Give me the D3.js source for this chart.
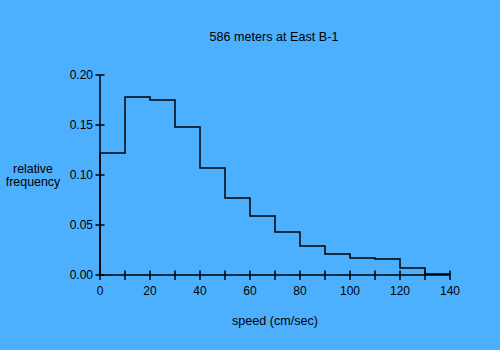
<!DOCTYPE html>
<html><head><meta charset="utf-8">
<script src="https://cdn.jsdelivr.net/npm/d3@7"></script>
<style>body{margin:0;background:#4db0ff;}svg{display:block;}</style>
</head><body>
<script>
const binStarts = [0,10,20,30,40,50,60,70,80,90,100,110,120,130];
const binWidth = 10;
const freq = [0.122,0.178,0.175,0.148,0.107,0.077,0.059,0.043,0.029,0.021,0.017,0.016,0.007,0.001];
const xTicks = [0,20,40,60,80,100,120,140];
const xMinorTicks = [0,10,20,30,40,50,60,70,80,90,100,110,120,130,140];
const yTicks = [0,0.05,0.10,0.15,0.20];
const title = "586 meters at East B-1";
const xLabel = "speed (cm/sec)";
const yLabel = ["relative","frequency"];

const W=500,H=350;
const svg=d3.select("body").append("svg").attr("width",W).attr("height",H);
svg.append("rect").attr("width",W).attr("height",H).attr("fill","#4db0ff");
const x=d3.scaleLinear().domain([0,140]).range([100,450]);
const y=d3.scaleLinear().domain([0,0.2]).range([275,75]);
const font="Liberation Sans, Arial, sans-serif";

// axes
const g=svg.append("g").attr("stroke","#000").attr("stroke-width",1.5).attr("fill","none");
g.append("line").attr("x1",x(0)).attr("x2",x(140)).attr("y1",y(0)).attr("y2",y(0));
g.append("line").attr("x1",x(0)).attr("x2",x(0)).attr("y1",y(0)).attr("y2",y(0.2));
xMinorTicks.forEach(t=>g.append("line").attr("x1",x(t)).attr("x2",x(t)).attr("y1",y(0)-4.5).attr("y2",y(0)+5));
yTicks.forEach(t=>g.append("line").attr("y1",y(t)).attr("y2",y(t)).attr("x1",x(0)-4.5).attr("x2",x(0)+4.5));

// histogram step path
const pts=[[x(0),y(0)]];
binStarts.forEach((s,i)=>{pts.push([x(s),y(freq[i])]);pts.push([x(s+binWidth),y(freq[i])]);});
pts.push([x(140),y(0)]);
svg.append("path").attr("d",d3.line()(pts)).attr("fill","none").attr("stroke","#000").attr("stroke-width",1.5);

const txt=svg.append("g").attr("font-family",font).attr("font-size",12).attr("fill","#000");
xTicks.forEach(t=>txt.append("text").attr("x",x(t)).attr("y",y(0)+20).attr("text-anchor","middle").text(t));
yTicks.forEach(t=>txt.append("text").attr("x",x(0)-7).attr("y",y(t)+4).attr("text-anchor","end").text(t.toFixed(2)));
txt.append("text").attr("x",274).attr("y",41).attr("text-anchor","middle").attr("font-size",12.6).text(title);
txt.append("text").attr("x",275).attr("y",325).attr("text-anchor","middle").attr("font-size",12.6).text(xLabel);
yLabel.forEach((l,i)=>txt.append("text").attr("x",33).attr("y",173+i*13).attr("text-anchor","middle").attr("font-size",12.4).text(l));
</script>
</body></html>
